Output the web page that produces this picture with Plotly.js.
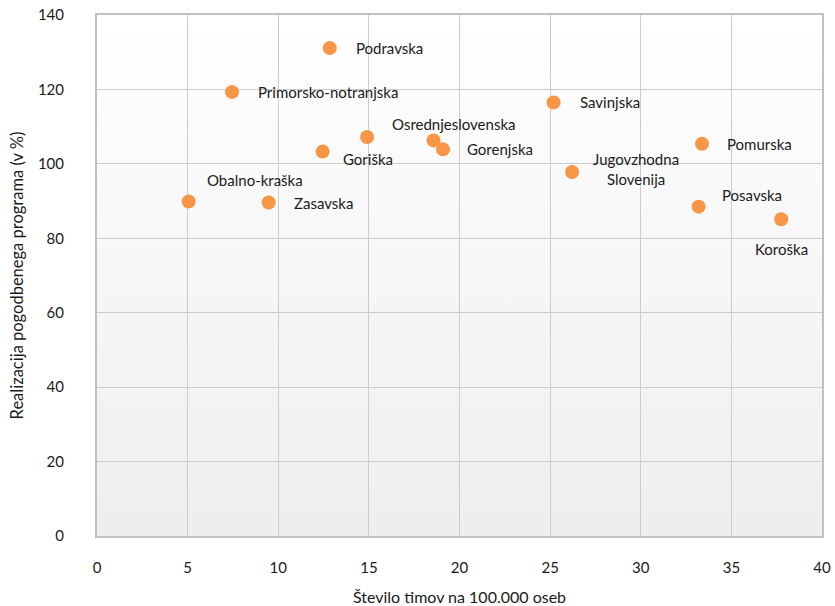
<!DOCTYPE html>
<html>
<head>
<meta charset="utf-8">
<script src="https://cdn.plot.ly/plotly-3.0.1.min.js"></script>
<style>
  html, body { margin: 0; padding: 0; background: #ffffff; }
  #chart { width: 835px; height: 606px; }
</style>
</head>
<body>
<div id="chart"></div>
<script>
// Data
var regions = ["Podravska", "Primorsko-notranjska", "Osrednjeslovenska", "Goriška", "Slovenija",
               "Gorenjska", "Obalno-kraška", "Zasavska", "Savinjska", "Jugovzhodna<br>Slovenija",
               "Pomurska", "Posavska", "Koroška"];
var teamsPer100k = [12.84, 7.45, 14.90, 12.45, 18.57, 19.09, 5.06, 9.47, 25.19, 26.21, 33.38, 33.19, 37.75];
var realization  = [131.1, 119.3, 107.2, 103.3, 106.3, 103.9, 89.9, 89.6, 116.5, 97.8, 105.4, 88.5, 85.1];
var showLabel    = [true, true, true, true, false, true, true, true, true, true, true, true, true];
var xTicks = [0, 5, 10, 15, 20, 25, 30, 35, 40];
var yTicks = [0, 20, 40, 60, 80, 100, 120, 140];

// Label placement (pixel offsets from each point; positive dy = up) — styling only
var labelStyle = [
  {dx: 24, dy: 0, anchor: "left"},
  {dx: 24, dy: 0, anchor: "left"},
  {dx: 23, dy: 13, anchor: "left"},
  {dx: 18, dy: -7, anchor: "left"},
  {dx: 0, dy: 0, anchor: "left"},
  {dx: 22, dy: 0, anchor: "left"},
  {dx: 16, dy: 21, anchor: "left"},
  {dx: 23, dy: 0, anchor: "left"},
  {dx: 24, dy: 0, anchor: "left"},
  {dx: 64, dy: 3, anchor: "center"},
  {dx: 23, dy: 0, anchor: "left"},
  {dx: 21, dy: 12, anchor: "left"},
  {dx: 0, dy: -30, anchor: "center"}
];

var FONT = "Lato, 'Open Sans', sans-serif";

var annotations = [];
for (var i = 0; i < regions.length; i++) {
  if (!showLabel[i]) continue;
  annotations.push({
    x: teamsPer100k[i], y: realization[i], xref: "x", yref: "y",
    text: regions[i], showarrow: false,
    xanchor: labelStyle[i].anchor, yanchor: "middle",
    xshift: labelStyle[i].dx, yshift: labelStyle[i].dy,
    align: "center",
    font: {family: FONT, size: 15, color: "#1a1a1a"}
  });
}

var gradSvg = '<svg xmlns="http://www.w3.org/2000/svg" width="10" height="100" preserveAspectRatio="none">' +
  '<defs><linearGradient id="g" x1="0" y1="0" x2="0" y2="1">' +
  '<stop offset="0" stop-color="#ffffff"/><stop offset="1" stop-color="#eeeeee"/>' +
  '</linearGradient></defs><rect width="10" height="100" fill="url(#g)"/></svg>';
var gradUri = "data:image/svg+xml;base64," + btoa(gradSvg);

var trace = {
  type: "scatter", mode: "markers",
  x: teamsPer100k, y: realization,
  marker: {size: 14, color: "#F79646", line: {width: 0}},
  hoverinfo: "x+y", cliponaxis: false
};

var layout = {
  width: 835, height: 606,
  margin: {l: 97, r: 13, t: 15, b: 70, pad: 0},
  paper_bgcolor: "#ffffff",
  plot_bgcolor: "rgba(0,0,0,0)",
  showlegend: false,
  font: {family: FONT, size: 15, color: "#1a1a1a"},
  xaxis: {
    range: [0, 40], tickvals: xTicks, ticktext: xTicks.map(String),
    showgrid: true, gridcolor: "#cccccc", gridwidth: 1,
    showline: true, linecolor: "#c0c0c0", linewidth: 2, mirror: true,
    zeroline: false, ticks: "", ticklabelstandoff: 17,
    tickfont: {family: FONT, size: 15, color: "#1a1a1a"},
    title: {text: "Število timov na 100.000 oseb", standoff: 18,
            font: {family: FONT, size: 16, color: "#1a1a1a"}}
  },
  yaxis: {
    range: [0, 140], tickvals: yTicks, ticktext: yTicks.map(String),
    showgrid: true, gridcolor: "#cccccc", gridwidth: 1,
    showline: true, linecolor: "#c0c0c0", linewidth: 2, mirror: true,
    zeroline: false, ticks: "", ticklabelstandoff: 28,
    tickfont: {family: FONT, size: 15, color: "#1a1a1a"},
    title: {text: "Realizacija pogodbenega programa (v %)", standoff: 10,
            font: {family: FONT, size: 16.5, color: "#1a1a1a"}}
  },
  images: [{
    source: gradUri, xref: "paper", yref: "paper",
    x: 0, y: 1, sizex: 1, sizey: 1, sizing: "stretch",
    xanchor: "left", yanchor: "top", layer: "below"
  }],
  annotations: annotations
};

Plotly.newPlot("chart", [trace], layout, {displayModeBar: false, staticPlot: true});
</script>
</body>
</html>
